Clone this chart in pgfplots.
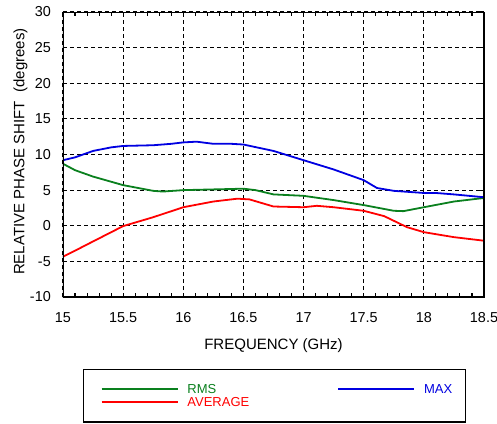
\documentclass[border=0pt]{standalone}
\usepackage{pgfplots}
\pgfplotsset{compat=1.18}
\usepackage{fontspec}
\setmainfont{Liberation Sans}
\definecolor{cgreen}{RGB}{10,128,30}
\definecolor{cblue}{RGB}{0,0,225}
\definecolor{cred}{RGB}{255,0,0}
\begin{document}
\begin{tikzpicture}
\begin{axis}[
  at={(0,0)}, anchor=south west,
  scale only axis, width=421pt, height=285pt,
  xmin=15, xmax=18.5, ymin=-10, ymax=30,
  xtick={15,15.5,16,16.5,17,17.5,18,18.5},
  xticklabels={15,15.5,16,16.5,17,17.5,18,18.5},
  ytick={-10,-5,0,5,10,15,20,25,30},
  yticklabels={-10,-5,0,5,10,15,20,25,30},
  minor x tick num=4,
  tick align=inside,
  major tick length=4pt, minor tick length=4pt,
  tick style={black, line width=1.1pt},
  grid=major,
  major grid style={black, line width=1.2pt, dash pattern=on 4pt off 3pt},
  ticklabel style={font=\fontsize{14.4}{16}\selectfont},
  yticklabel style={anchor=east, inner sep=0pt, xshift=-12pt},
  xticklabel style={anchor=north, inner sep=0pt, yshift=-15pt},
  xlabel={FREQUENCY (GHz)},
  ylabel={RELATIVE PHASE SHIFT\ \ (degrees)},
  label style={font=\fontsize{15}{17}\selectfont},
  xlabel style={at={(axis description cs:0.5,0)}, anchor=center, yshift=-49pt},
  ylabel style={at={(axis description cs:-0.101,0.51)}, anchor=center},
  legend columns=2,
  legend cell align=left,
  legend image code/.code={\path (-4pt,0pt); \draw[#1] (0pt,0pt) -- (76pt,0pt);},
  legend style={
    at={(0.0475,-0.2526)}, anchor=north west,
    draw=black, line width=1.3pt,
    inner xsep=13pt, inner ysep=15pt,
    font=\fontsize{13}{14}\selectfont,
    nodes={inner sep=0pt, text height=9.3pt, text depth=0pt},
    column sep=9pt, row sep=3.7pt,
    /tikz/every even column/.append style={column sep=84pt},
  },
]
\addplot[cgreen, line width=1.8pt] coordinates {
(15,8.7)(15.1,7.8)(15.25,6.9)(15.5,5.7)(15.75,4.9)(15.83,4.8)(16,5.0)(16.25,5.1)(16.5,5.2)(16.6,5.0)(16.75,4.4)(17,4.2)(17.25,3.6)(17.5,2.9)(17.75,2.1)(17.83,2.05)(18,2.6)(18.25,3.4)(18.5,3.9)
};
\addlegendentry{\textcolor{cgreen}{RMS}}
\addplot[cblue, line width=1.8pt] coordinates {
(15,9.2)(15.1,9.6)(15.25,10.5)(15.4,11.0)(15.5,11.2)(15.75,11.3)(15.9,11.5)(16,11.7)(16.11,11.8)(16.25,11.5)(16.4,11.5)(16.5,11.4)(16.75,10.5)(17,9.2)(17.25,7.9)(17.5,6.4)(17.61,5.3)(17.75,4.9)(18,4.6)(18.1,4.6)(18.25,4.4)(18.5,4.0)
};
\addlegendentry{\textcolor{cblue}{MAX}}
\addplot[cred, line width=1.8pt] coordinates {
(15,-4.35)(15.1,-3.5)(15.25,-2.2)(15.5,-0.05)(15.75,1.2)(16,2.6)(16.25,3.4)(16.45,3.8)(16.55,3.7)(16.75,2.7)(17,2.6)(17.11,2.8)(17.25,2.6)(17.5,2.1)(17.67,1.35)(17.86,-0.2)(18,-0.9)(18.25,-1.6)(18.5,-2.1)
};
\addlegendentry{\textcolor{cred}{AVERAGE}}
\draw[black, line width=2.6pt] (rel axis cs:0,0) rectangle (rel axis cs:1,1);
\end{axis}
\pgfresetboundingbox
\path[use as bounding box] (-63pt,-126pt) rectangle (434pt,297pt);
\end{tikzpicture}
\end{document}
